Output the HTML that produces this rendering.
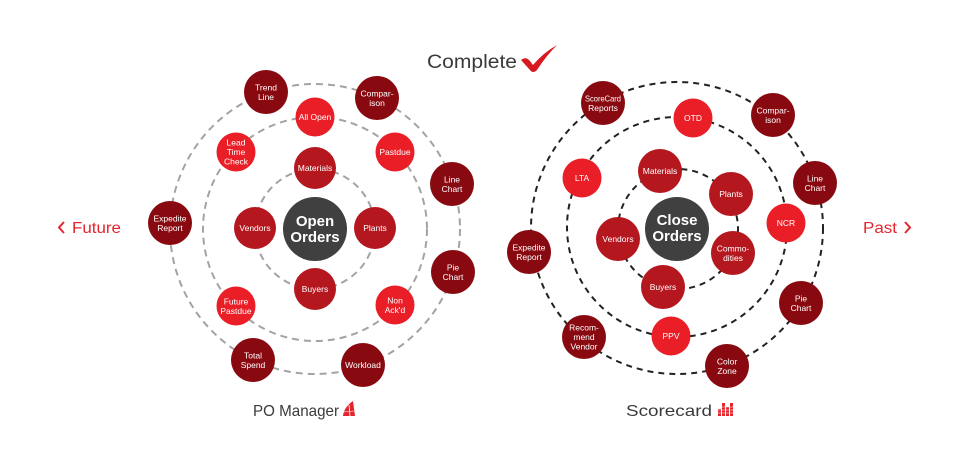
<!DOCTYPE html>
<html><head><meta charset="utf-8"><style>
html,body{margin:0;padding:0;background:#fff;}
svg{display:block;}
text{font-family:"Liberation Sans",sans-serif;}
.l{font-size:8.5px;fill:#fff;text-anchor:middle;}
.c{font-size:15px;font-weight:bold;fill:#fff;text-anchor:middle;}
</style></head><body>
<svg width="971" height="469" viewBox="0 0 971 469" xmlns="http://www.w3.org/2000/svg">
<rect width="971" height="469" fill="#fff"/>
<!-- title -->
<text x="427" y="68" font-size="19" fill="#3a3a3a" textLength="90" lengthAdjust="spacingAndGlyphs">Complete</text>
<path d="M521,60 Q526,56 530,61 L533,65 Q543,53 557,45 Q546,56 537,70 Q533,74 530,70 Z" fill="#d71920"/>
<!-- Future / Past -->
<polyline points="64,222 59,227.5 64,233" fill="none" stroke="#e3262e" stroke-width="2"/>
<text x="72" y="233" font-size="15.5" fill="#e3262e" textLength="49" lengthAdjust="spacingAndGlyphs">Future</text>
<text x="863" y="233" font-size="15.5" fill="#e3262e" textLength="34" lengthAdjust="spacingAndGlyphs">Past</text>
<polyline points="905,222 910,227.5 905,233" fill="none" stroke="#e3262e" stroke-width="2"/>
<!-- bottom labels -->
<text x="253" y="416" font-size="16" fill="#3a3a3a" textLength="86" lengthAdjust="spacingAndGlyphs">PO Manager</text>
<path d="M353,401 L355,416 L343,416 Q344,407 353,401 Z" fill="#e3262e"/>
<path d="M349,405 L350,416" stroke="#fff" stroke-width="0.8"/>
<path d="M344,412 L354,411" stroke="#fff" stroke-width="0.6"/>
<text x="626" y="416" font-size="16" fill="#3a3a3a" textLength="86" lengthAdjust="spacingAndGlyphs">Scorecard</text>
<g fill="#e3262e">
<rect x="718" y="409" width="3" height="7"/>
<rect x="722" y="403" width="3" height="13"/>
<rect x="726" y="407" width="3" height="9"/>
<rect x="730" y="403" width="3" height="13"/>
</g>
<g stroke="#fff" stroke-width="0.6">
<line x1="717" y1="407" x2="734" y2="407"/><line x1="717" y1="410" x2="734" y2="410"/><line x1="717" y1="413" x2="734" y2="413"/>
</g>

<!-- LEFT rings -->
<g fill="none" stroke="#a3a3a3" stroke-width="2" stroke-dasharray="7 5">
<circle cx="315" cy="229" r="60"/>
<circle cx="315" cy="229" r="112"/>
<circle cx="315" cy="229" r="145"/>
</g>
<!-- RIGHT rings -->
<g fill="none" stroke="#222" stroke-width="2" stroke-dasharray="6 5">
<circle cx="678" cy="229" r="60"/>
<circle cx="677" cy="227" r="110"/>
<circle cx="677" cy="228" r="146"/>
</g>

<!-- LEFT nodes -->
<circle cx="315" cy="229" r="32" fill="#404040"/>
<text class="c" x="315" y="226">Open</text><text class="c" x="315" y="242">Orders</text>
<g fill="#b5171f">
<circle cx="315" cy="168" r="21"/><circle cx="375" cy="228" r="21"/><circle cx="315" cy="289" r="21"/><circle cx="255" cy="228" r="21"/>
</g>
<text class="l" x="315" y="171">Materials</text>
<text class="l" x="375" y="231">Plants</text>
<text class="l" x="315" y="292">Buyers</text>
<text class="l" x="255" y="231">Vendors</text>
<g fill="#ea1e27">
<circle cx="315" cy="117" r="19.5"/><circle cx="395" cy="152" r="19.5"/><circle cx="395" cy="305" r="19.5"/><circle cx="236" cy="306" r="19.5"/><circle cx="236" cy="152" r="19.5"/>
</g>
<text class="l" x="315" y="120">All Open</text>
<text class="l" x="395" y="155">Pastdue</text>
<text class="l" x="395" y="303.5">Non</text><text class="l" x="395" y="313">Ack'd</text>
<text class="l" x="236" y="304.5">Future</text><text class="l" x="236" y="314">Pastdue</text>
<text class="l" x="236" y="145.5">Lead</text><text class="l" x="236" y="155">Time</text><text class="l" x="236" y="164.5">Check</text>
<g fill="#880a10">
<circle cx="266" cy="92" r="22"/><circle cx="377" cy="98" r="22"/><circle cx="452" cy="184" r="22"/><circle cx="453" cy="272" r="22"/><circle cx="363" cy="365" r="22"/><circle cx="253" cy="360" r="22"/><circle cx="170" cy="223" r="22"/>
</g>
<text class="l" x="266" y="90.5">Trend</text><text class="l" x="266" y="100">Line</text>
<text class="l" x="377" y="96.5">Compar-</text><text class="l" x="377" y="106">ison</text>
<text class="l" x="452" y="182.5">Line</text><text class="l" x="452" y="192">Chart</text>
<text class="l" x="453" y="270.5">Pie</text><text class="l" x="453" y="280">Chart</text>
<text class="l" x="363" y="368">Workload</text>
<text class="l" x="253" y="358.5">Total</text><text class="l" x="253" y="368">Spend</text>
<text class="l" x="170" y="221.5">Expedite</text><text class="l" x="170" y="231">Report</text>

<!-- RIGHT nodes -->
<circle cx="677" cy="229" r="32" fill="#404040"/>
<text class="c" x="677" y="225">Close</text><text class="c" x="677" y="241">Orders</text>
<g fill="#b5171f">
<circle cx="660" cy="171" r="22"/><circle cx="731" cy="194" r="22"/><circle cx="733" cy="253" r="22"/><circle cx="663" cy="287" r="22"/><circle cx="618" cy="239" r="22"/>
</g>
<text class="l" x="660" y="174">Materials</text>
<text class="l" x="731" y="197">Plants</text>
<text class="l" x="733" y="251.5">Commo-</text><text class="l" x="733" y="261">dities</text>
<text class="l" x="663" y="290">Buyers</text>
<text class="l" x="618" y="242">Vendors</text>
<g fill="#ea1e27">
<circle cx="693" cy="118" r="19.5"/><circle cx="786" cy="223" r="19.5"/><circle cx="671" cy="336" r="19.5"/><circle cx="582" cy="178" r="19.5"/>
</g>
<text class="l" x="693" y="121">OTD</text>
<text class="l" x="786" y="226">NCR</text>
<text class="l" x="671" y="339">PPV</text>
<text class="l" x="582" y="181">LTA</text>
<g fill="#880a10">
<circle cx="603" cy="103" r="22"/><circle cx="773" cy="115" r="22"/><circle cx="815" cy="183" r="22"/><circle cx="801" cy="303" r="22"/><circle cx="727" cy="366" r="22"/><circle cx="584" cy="337" r="22"/><circle cx="529" cy="252" r="22"/>
</g>
<text class="l" x="603" y="101.5" textLength="36" lengthAdjust="spacingAndGlyphs">ScoreCard</text><text class="l" x="603" y="111">Reports</text>
<text class="l" x="773" y="113.5">Compar-</text><text class="l" x="773" y="123">ison</text>
<text class="l" x="815" y="181.5">Line</text><text class="l" x="815" y="191">Chart</text>
<text class="l" x="801" y="301.5">Pie</text><text class="l" x="801" y="311">Chart</text>
<text class="l" x="727" y="364.5">Color</text><text class="l" x="727" y="374">Zone</text>
<text class="l" x="584" y="330.5">Recom-</text><text class="l" x="584" y="340">mend</text><text class="l" x="584" y="349.5">Vendor</text>
<text class="l" x="529" y="250.5">Expedite</text><text class="l" x="529" y="260">Report</text>
</svg>
</body></html>
